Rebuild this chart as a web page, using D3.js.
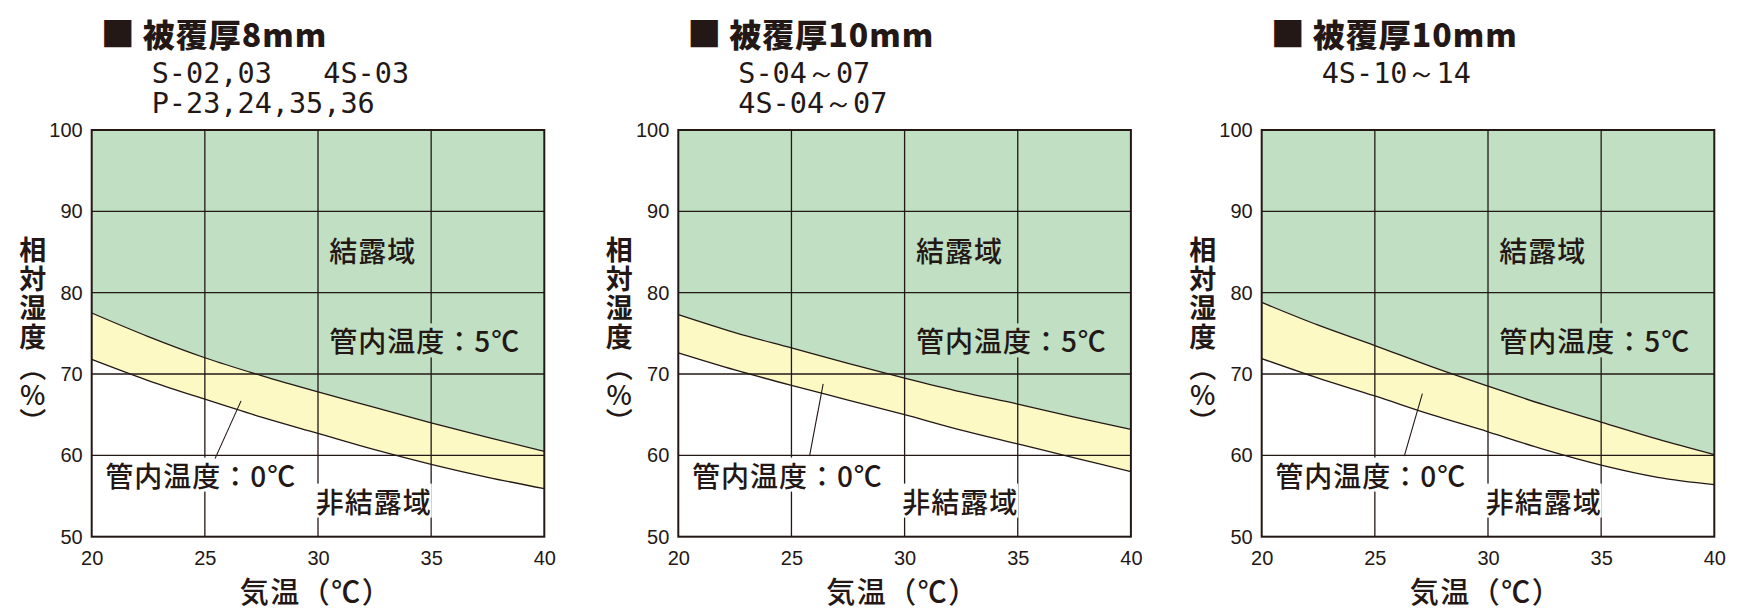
<!DOCTYPE html>
<html>
<head>
<meta charset="utf-8">
<script src="https://cdn.jsdelivr.net/npm/d3@7"></script>
<style>
  html, body { margin: 0; padding: 0; background: #ffffff; }
  svg { display: block; }
</style>
</head>
<body>
<svg id="chart" width="1748" height="616"></svg>
<script>
// ---------------- data ----------------
const temps = [20, 22.5, 25, 27.5, 30, 32.5, 35, 37.5, 40];   // 気温 (℃)
const xTicks = [20, 25, 30, 35, 40];
const yTicks = [50, 60, 70, 80, 90, 100];

const titles = ["被覆厚8mm", "被覆厚10mm", "被覆厚10mm"];
const subtitles = [
  ["S-02,03   4S-03", "P-23,24,35,36"],
  ["S-04～07", "4S-04～07"],
  ["4S-10～14"]
];

// 管内温度 5℃ (結露域 boundary) — relative humidity %
const rh5_8mm  = [77.5, 74.6, 72.0, 69.8, 67.8, 65.9, 64.0, 62.2, 60.5];
const rh5_10a  = [77.3, 75.1, 73.2, 71.3, 69.5, 67.8, 66.3, 64.7, 63.2];
const rh5_10b  = [78.8, 76.0, 73.5, 70.9, 68.5, 66.2, 64.1, 62.0, 60.1];
// 管内温度 0℃ (非結露域 boundary)
const rh0_8mm  = [71.8, 69.2, 66.9, 64.7, 62.7, 60.7, 58.9, 57.3, 55.9];
const rh0_10a  = [72.6, 70.5, 68.6, 66.8, 65.0, 63.1, 61.4, 59.7, 58.0];
const rh0_10b  = [71.9, 69.5, 67.3, 65.0, 62.9, 60.7, 58.8, 57.3, 56.4];

const zoneLabels = ["結露域", "管内温度：5℃", "管内温度：0℃", "非結露域"];
const xTitle = "気温（℃）";
const yTitle = "相対湿度";
const yUnit = "（%）";

// ---------------- layout / style ----------------
const INK = "#231815";
const GREEN = "#c0dfc3";
const YELLOW = "#fdf9c5";
const panels = [
  { left: 91.7,   upper: rh5_8mm, lower: rh0_8mm, leader: [[25.45, 59.6], [26.6, 66.7]] },
  { left: 678.3,  upper: rh5_10a, lower: rh0_10a, leader: [[25.8, 59.9], [26.4, 68.8]] },
  { left: 1261.7, upper: rh5_10b, lower: rh0_10b, leader: [[26.3, 59.9], [27.1, 67.6]] }
];
const plotW = 452.6, plotTop = 130, plotBottom = 536.7;

const svg = d3.select("#chart");
const JP = "'Noto Sans CJK JP', 'Noto Sans', sans-serif";
const NUM = "'Liberation Sans', Arial, sans-serif";

panels.forEach((p, i) => {
  const x = d3.scaleLinear().domain([20, 40]).range([p.left, p.left + plotW]);
  const y = d3.scaleLinear().domain([50, 100]).range([plotBottom, plotTop]);
  const g = svg.append("g");

  const clipId = "clip" + i;
  g.append("clipPath").attr("id", clipId).append("rect")
    .attr("x", x(20)).attr("y", y(100)).attr("width", x(40) - x(20)).attr("height", y(50) - y(100));
  const pg = g.append("g").attr("clip-path", `url(#${clipId})`);

  const rows = temps.map((t, k) => ({ t, u: p.upper[k], l: p.lower[k] }));
  const curve = d3.curveMonotoneX;

  // 結露域 (green) above the 5℃ line
  pg.append("path").datum(rows)
    .attr("fill", GREEN)
    .attr("d", d3.area().curve(curve).x(d => x(d.t)).y0(y(100)).y1(d => y(d.u)));
  // band between 0℃ and 5℃ lines (yellow)
  pg.append("path").datum(rows)
    .attr("fill", YELLOW)
    .attr("d", d3.area().curve(curve).x(d => x(d.t)).y0(d => y(d.l)).y1(d => y(d.u)));

  // grid
  pg.selectAll("line.gx").data(xTicks.slice(1, -1)).enter().append("line")
    .attr("x1", d => x(d)).attr("x2", d => x(d)).attr("y1", y(100)).attr("y2", y(50))
    .attr("stroke", INK).attr("stroke-width", 1.3);
  pg.selectAll("line.gy").data(yTicks.slice(1, -1)).enter().append("line")
    .attr("x1", x(20)).attr("x2", x(40)).attr("y1", d => y(d)).attr("y2", d => y(d))
    .attr("stroke", INK).attr("stroke-width", 1.3);

  // curves
  [p.upper, p.lower].forEach(vals => {
    pg.append("path").datum(temps.map((t, k) => [t, vals[k]]))
      .attr("fill", "none").attr("stroke", INK).attr("stroke-width", 1.3)
      .attr("d", d3.line().curve(curve).x(d => x(d[0])).y(d => y(d[1])));
  });

  // zone labels with background boxes
  const labelDefs = [
    { text: zoneLabels[0], t: 30.5, v: 85.0, bg: GREEN },
    { text: zoneLabels[1], t: 30.5, v: 73.9, bg: GREEN },
    { text: zoneLabels[2], t: 20.6, v: 57.4, bg: "#ffffff" },
    { text: zoneLabels[3], t: 29.9, v: 54.2, bg: "#ffffff" }
  ];
  labelDefs.forEach(ld => {
    const lg = pg.append("g");
    const bgRect = lg.append("rect").attr("fill", ld.bg);
    const txt = lg.append("text")
      .attr("x", x(ld.t)).attr("y", y(ld.v)).attr("dy", "0.36em")
      .attr("font-family", JP).attr("font-size", 28).attr("font-weight", 500)
      .attr("letter-spacing", 1)
      .attr("fill", INK).text(ld.text);
    const bb = txt.node().getBBox();
    bgRect.attr("x", bb.x - 2).attr("y", bb.y + 3).attr("width", bb.width + 2).attr("height", bb.height - 6);
  });

  // leader line
  pg.append("line")
    .attr("x1", x(p.leader[0][0])).attr("y1", y(p.leader[0][1]))
    .attr("x2", x(p.leader[1][0])).attr("y2", y(p.leader[1][1]))
    .attr("stroke", INK).attr("stroke-width", 1.1);

  // frame
  g.append("rect")
    .attr("x", x(20)).attr("y", y(100)).attr("width", x(40) - x(20)).attr("height", y(50) - y(100))
    .attr("fill", "none").attr("stroke", INK).attr("stroke-width", 2);

  // axes (tick labels only)
  const yAxis = d3.axisLeft(y).tickValues(yTicks).tickSize(0).tickPadding(9);
  const ya = g.append("g").attr("transform", `translate(${x(20)},0)`).call(yAxis);
  const xAxis = d3.axisBottom(x).tickValues(xTicks).tickSize(0).tickPadding(14);
  const xa = g.append("g").attr("transform", `translate(0,${y(50)})`).call(xAxis);
  [ya, xa].forEach(a => {
    a.select(".domain").remove();
    a.selectAll("text").attr("font-family", NUM).attr("font-size", 20).attr("fill", INK);
  });

  // axis titles
  g.append("text")
    .attr("x", (x(20) + x(40)) / 2 - 2).attr("y", 603)
    .attr("text-anchor", "middle")
    .attr("font-family", JP).attr("font-size", 29).attr("font-weight", 500)
    .attr("letter-spacing", 1.5)
    .attr("fill", INK).text(xTitle);

  const yx = x(20) - 59;
  g.append("text")
    .attr("x", yx).attr("y", plotTop + 106)
    .attr("writing-mode", "vertical-rl")
    .style("text-orientation", "upright")
    .attr("font-family", JP).attr("font-size", 27).attr("font-weight", 700)
    .attr("letter-spacing", 2)
    .attr("fill", INK).text(yTitle);
  g.append("text")
    .attr("x", yx).attr("y", plotTop + 224)
    .attr("writing-mode", "vertical-rl")
    .style("text-orientation", "upright")
    .attr("font-family", JP).attr("font-size", 27).attr("font-weight", 500)
    .attr("fill", INK).text(yUnit);

  // title
  g.append("text")
    .attr("x", x(20) + 9).attr("y", 47)
    .attr("font-family", JP).attr("font-size", 34).attr("font-weight", 700)
    .attr("fill", INK).text("■");
  g.append("text")
    .attr("x", x(20) + 51).attr("y", 47)
    .attr("font-family", JP).attr("font-size", 32).attr("font-weight", 900)
    .attr("letter-spacing", 1)
    .attr("fill", INK).text(titles[i]);

  // subtitles
  subtitles[i].forEach((s, k) => {
    g.append("text")
      .attr("x", x(20) + 60).attr("y", 83 + k * 30)
      .attr("font-family", "'DejaVu Sans Mono', monospace").attr("font-size", 28.5)
      .style("white-space", "pre")
      .attr("fill", INK).text(s);
  });
});
</script>
</body>
</html>
